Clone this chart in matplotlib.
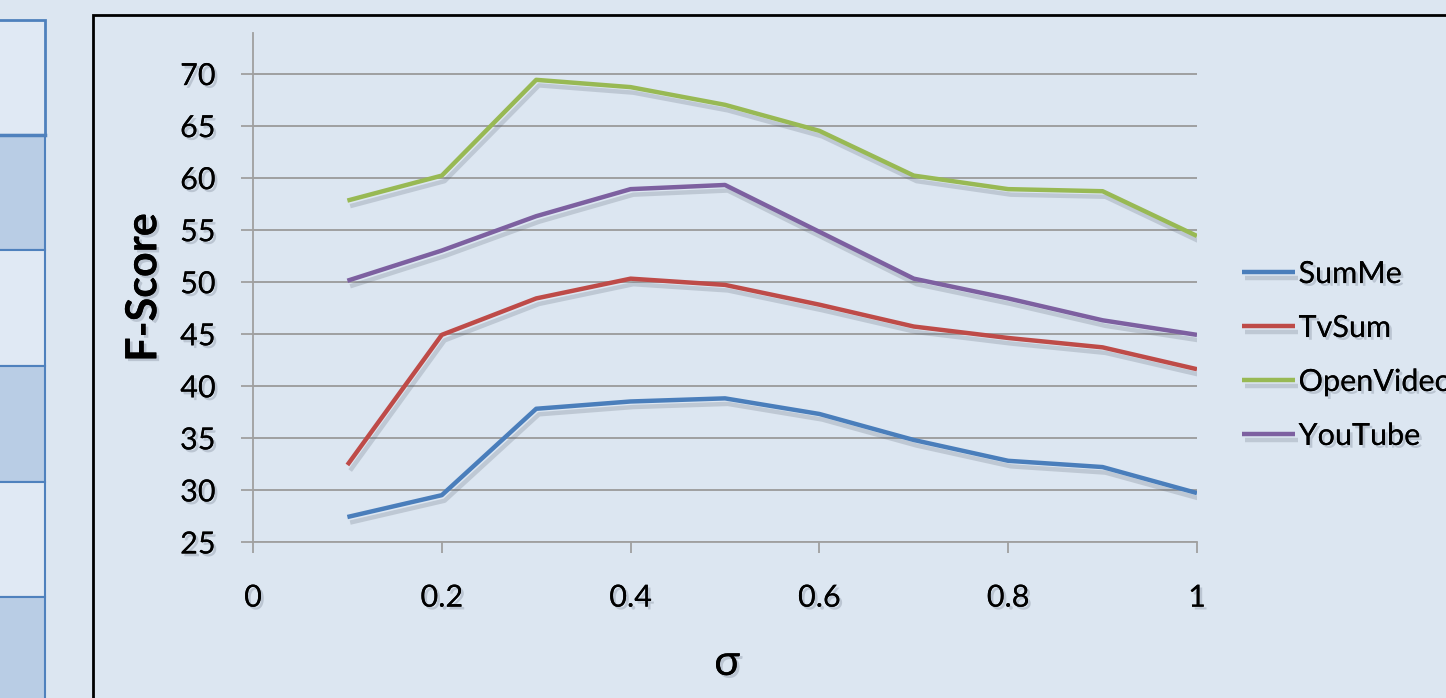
import matplotlib.pyplot as plt
import matplotlib.patheffects as pe
from matplotlib.patches import Rectangle

# sigma values on the x axis
sigma = [0.1, 0.2, 0.3, 0.4, 0.5, 0.6, 0.7, 0.8, 0.9, 1.0]

summe = [27.4, 29.5, 37.8, 38.5, 38.8, 37.3, 34.8, 32.8, 32.2, 29.7]
tvsum = [32.4, 44.9, 48.4, 50.3, 49.7, 47.8, 45.7, 44.6, 43.7, 41.6]
openvideo = [57.8, 60.2, 69.4, 68.7, 67.0, 64.5, 60.2, 58.9, 58.7, 54.4]
youtube = [50.1, 53.0, 56.3, 58.9, 59.3, 54.8, 50.3, 48.4, 46.3, 44.9]

series = [('SumMe', summe, '#4a7ebb'),
          ('TvSum', tvsum, '#be4b48'),
          ('OpenVideo', openvideo, '#98b954'),
          ('YouTube', youtube, '#7d60a0')]

xticks = [0, 0.2, 0.4, 0.6, 0.8, 1]
xticklabels = ['0', '0.2', '0.4', '0.6', '0.8', '1']
yticks = [25, 30, 35, 40, 45, 50, 55, 60, 65, 70]

bg = '#dce6f1'
W, H = 1446, 698

plt.rcParams['font.family'] = ['Lato', 'DejaVu Sans']

fig = plt.figure(figsize=(W / 100, H / 100), dpi=100, facecolor=bg)

txt_shadow = [pe.withSimplePatchShadow(offset=(2, -2), shadow_rgbFace='#7f8a99', alpha=0.35), pe.Normal()]

# the table that is cut off at the left edge
row_edges = [20, 135, 250, 366, 482, 597, 720]
for i in range(len(row_edges) - 1):
	y0, y1 = row_edges[i], row_edges[i + 1]
	face = '#e0e9f4' if i % 2 == 0 else '#b9cde5'
	fig.patches.append(Rectangle((-0.01, 1 - y1 / H), 45 / W + 0.01, (y1 - y0) / H,
		transform=fig.transFigure, facecolor=face, edgecolor='#4f81bd', linewidth=2 if i == 0 else 1.5, zorder=-2))
# heavier line under the header row
fig.add_artist(plt.Line2D([0, 45 / W], [1 - 135 / H] * 2, transform=fig.transFigure, color='#4f81bd', lw=2.5, zorder=-1))

# chart border
fig.patches.append(Rectangle((93 / W, -0.05), 1.0, 1 - 15 / H + 0.05, transform=fig.transFigure,
	facecolor=bg, edgecolor='black', linewidth=2, zorder=-1))

ax = fig.add_axes([253 / W, 1 - 542 / H, (1197 - 253) / W, (542 - 33) / H])
ax.set_facecolor('none')

for name, vals, col in series:
	ax.plot(sigma, vals, color=col, lw=3.2, label=name, solid_capstyle='butt',
		path_effects=[pe.SimpleLineShadow(offset=(2, -4), shadow_color='#55606e', alpha=0.22), pe.Normal()])

ax.set_xlim(0, 1)
ax.set_ylim(25, 73.9)
ax.set_xticks(xticks)
ax.set_xticklabels(xticklabels)
ax.set_yticks(yticks)
ax.yaxis.grid(True, color='#9a9a9a', lw=1.3)
ax.set_axisbelow(True)

for s in ['top', 'right']:
	ax.spines[s].set_visible(False)
for s in ['left', 'bottom']:
	ax.spines[s].set_color('#a0a0a0')
	ax.spines[s].set_linewidth(1.3)

ax.tick_params(axis='y', length=9, width=1.3, color='#a0a0a0', labelsize=22, pad=18)
ax.tick_params(axis='x', length=8, width=1.3, color='#a0a0a0', labelsize=22, pad=22)
for lab in ax.get_xticklabels() + ax.get_yticklabels():
	lab.set_path_effects(txt_shadow)

ax.set_ylabel('F-Score', fontsize=31, fontweight='bold', labelpad=12, path_effects=txt_shadow)
fig.text(727 / W, 1 - 663 / H, 'σ', fontsize=31, ha='center', va='center', path_effects=txt_shadow)

leg = fig.legend(loc='center left', bbox_to_anchor=(1242 / W, 1 - 355 / H), frameon=False,
	fontsize=22, handlelength=1.75, handletextpad=0.1, labelspacing=0.85, borderpad=0, borderaxespad=0)
for t in leg.get_texts():
	t.set_path_effects(txt_shadow)

plt.savefig('out.png', dpi=100, facecolor=bg)
